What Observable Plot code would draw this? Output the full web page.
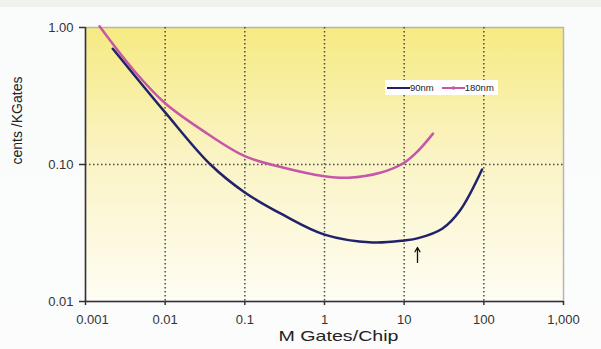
<!DOCTYPE html>
<html>
<head>
<meta charset="utf-8">
<script src="https://cdn.jsdelivr.net/npm/d3@7"></script>
<script src="https://cdn.jsdelivr.net/npm/@observablehq/plot@0.6"></script>
<style>
  html, body { margin: 0; padding: 0; }
  body {
    width: 601px; height: 349px; overflow: hidden; position: relative;
    background: linear-gradient(to bottom, #eef3ec 0px, #eef3ec 7px, #fafcfb 7px, #fbfcfb 100%);
    font-family: "Liberation Sans", Arial, sans-serif;
  }
  #legend {
    position: absolute; left: 385px; top: 80px; width: 113px; height: 15px; box-sizing: border-box;
    padding: 0 2px; background: #fff; display: flex; align-items: center; font-size: 9.5px; color: #222;
    white-space: nowrap;
  }
  #legend .item { display: flex; align-items: center; margin-right: 8px; }
  #legend svg { display: block; }
</style>
</head>
<body>
<div id="chart"></div>
<script>
// ---- data ----
const seriesNames = ["90nm", "180nm"];
const seriesColors = ["#22226b", "#c656a8"];

const nm90X = [0.0022, 0.01, 0.037, 0.1, 0.3, 1, 4, 10, 15, 30, 50, 95];
const nm90Y = [0.70, 0.24, 0.10, 0.0625, 0.043, 0.0308, 0.027, 0.0279, 0.029, 0.034, 0.046, 0.092];

const nm180X = [0.0015, 0.004, 0.01, 0.03, 0.1, 0.3, 1, 2, 5, 10, 15, 23];
const nm180Y = [1.02, 0.49, 0.28, 0.176, 0.115, 0.095, 0.082, 0.080, 0.087, 0.103, 0.126, 0.168];

const xTicks = [0.001, 0.01, 0.1, 1, 10, 100, 1000];
const xTickLabels = ["0.001", "0.01", "0.1", "1", "10", "100", "1,000"];
const yTicks = [0.01, 0.1, 1];
const yTickLabels = ["0.01", "0.10", "1.00"];
const xGrid = [0.01, 0.1, 1, 10, 100];
const yGrid = [0.1];

const arrowX = [14.7];
const arrowTail = [0.0193];
const arrowTip = [0.0248];

const xLabel = "M Gates/Chip";
const yLabel = "cents /KGates";

// ---- build ----
const data90 = nm90X.map((x, i) => ({x, y: nm90Y[i]}));
const data180 = nm180X.map((x, i) => ({x, y: nm180Y[i]}));
const arrowData = arrowX.map((x, i) => ({x, y1: arrowTail[i], y2: arrowTip[i]}));
const xTickData = xTicks.map((x, i) => ({x, label: xTickLabels[i]}));

const dotted = {stroke: "#4a4a4a", strokeWidth: 1.5, strokeDasharray: "1.5,2.5"};

const chart = Plot.plot({
  width: 601,
  height: 349,
  marginLeft: 85,
  marginRight: 38,
  marginTop: 27,
  marginBottom: 48,
  style: {background: "transparent", fontFamily: "'Liberation Sans', Arial, sans-serif", fontSize: "13px", color: "#333"},
  x: {type: "log", domain: [0.001, 1000]},
  y: {type: "log", domain: [0.01, 1]},
  marks: [
    Plot.frame({fill: "url(#bgGrad)", stroke: "#b5b5b5", strokeWidth: 1.5}),
    Plot.ruleX(xGrid, dotted),
    Plot.ruleY(yGrid, dotted),
    Plot.ruleX([0.001], {stroke: "#333", strokeWidth: 1.5}),
    Plot.ruleY([0.01], {stroke: "#333", strokeWidth: 1.5}),
    Plot.axisX({ticks: xTicks, tickFormat: () => "", label: null, tickSize: 4, stroke: "#333", strokeWidth: 1.5}),
    Plot.text(xTickData.slice(0, 1), {x: "x", text: "label", frameAnchor: "bottom", dy: 22, dx: 7, fontSize: 13, fill: "#333"}),
    Plot.text(xTickData.slice(1), {x: "x", text: "label", frameAnchor: "bottom", dy: 22, fontSize: 13, fill: "#333"}),
    Plot.axisY({ticks: yTicks, tickFormat: d => yTickLabels[yTicks.indexOf(d)], label: null, tickSize: 6, tickPadding: 6, stroke: "#333", strokeWidth: 1.5, fontSize: 13}),
    Plot.line(data180, {x: "x", y: "y", stroke: seriesColors[1], strokeWidth: 2.5, curve: "catmull-rom"}),
    Plot.line(data90, {x: "x", y: "y", stroke: seriesColors[0], strokeWidth: 2.5, curve: "catmull-rom"}),
    Plot.arrow(arrowData, {x1: "x", x2: "x", y1: "y1", y2: "y2", stroke: "#111", strokeWidth: 1.3, headLength: 6}),
    Plot.text([yLabel], {frameAnchor: "left", rotate: -90, dx: -68, fontSize: 14, fill: "#222"}),
    Plot.text([xLabel], {frameAnchor: "bottom", dx: 14, dy: 39, fontSize: 15, fill: "#222"})
  ]
});

const ns = "http://www.w3.org/2000/svg";
const defs = document.createElementNS(ns, "defs");
defs.innerHTML = '<linearGradient id="bgGrad" x1="0" y1="0" x2="0" y2="1">' +
  '<stop offset="0" stop-color="#f6ea82"/>' +
  '<stop offset="0.45" stop-color="#faf3c2"/>' +
  '<stop offset="1" stop-color="#fffdf4"/>' +
  '</linearGradient>';
chart.insertBefore(defs, chart.firstChild);
// stretch axis title to the reference's wide setting
chart.querySelectorAll("text").forEach(t => {
  if (t.textContent === xLabel) {
    t.setAttribute("textLength", "120");
    t.setAttribute("lengthAdjust", "spacingAndGlyphs");
  }
});
document.getElementById("chart").appendChild(chart);

// legend
const legend = document.createElement("div");
legend.id = "legend";
seriesNames.forEach((name, i) => {
  const item = document.createElement("div");
  item.className = "item";
  const marker = i === 1 ? `<rect x="10" y="2.5" width="3" height="3" fill="${seriesColors[i]}"/>` : "";
  item.innerHTML = `<svg width="23" height="8"><line x1="0" y1="4" x2="23" y2="4" stroke="${seriesColors[i]}" stroke-width="2"/>${marker}</svg><span>${name}</span>`;
  legend.appendChild(item);
});
document.body.appendChild(legend);
</script>
</body>
</html>
